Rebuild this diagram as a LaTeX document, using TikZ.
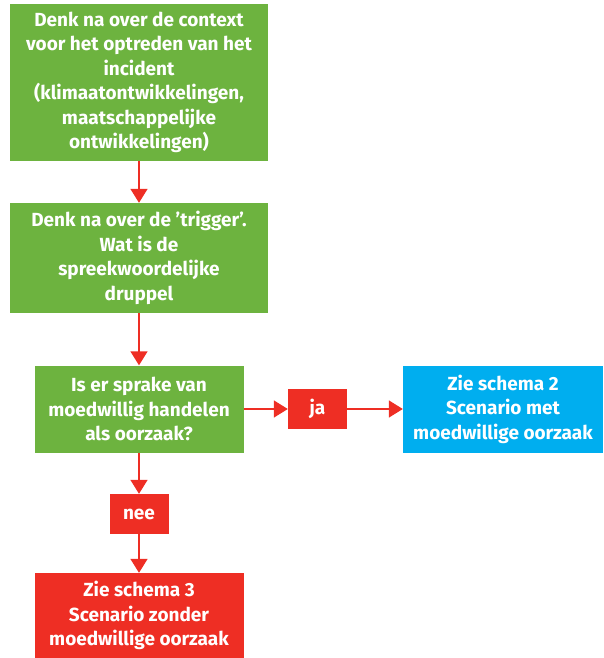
\documentclass[tikz,border=0pt]{standalone}
\usepackage{fontspec}
\setmainfont{Fira Sans}
\usetikzlibrary{arrows.meta}
\definecolor{boxgreen}{RGB}{109,179,63}
\definecolor{boxred}{RGB}{238,46,36}
\definecolor{boxblue}{RGB}{0,174,239}
\tikzset{
  box/.style={rectangle, inner sep=0pt, text=white, align=center,
    font=\fontsize{19}{24.5}\selectfont\bfseries},
  greenbox/.style={box, fill=boxgreen},
  redbox/.style={box, fill=boxred},
  bluebox/.style={box, fill=boxblue},
  link/.style={draw=boxred, line width=1.5pt, -{Triangle[width=17pt,length=14pt]}}
}
\begin{document}
\begin{tikzpicture}[x=1pt,y=-1pt]
\useasboundingbox (0,0) rectangle (603,658);
\node[greenbox, minimum width=258pt, minimum height=157pt] (b1) at (139,82.5)
  {Denk na over de context\\voor het optreden van het\\incident\\(klimaatontwikkelingen,\\maatschappelijke\\ontwikkelingen)};
\node[greenbox, minimum width=258pt, minimum height=110pt] (b2) at (139,258)
  {Denk na over de ’trigger’.\\Wat is de\\spreekwoordelijke\\druppel};
\node[greenbox, minimum width=209pt, minimum height=87pt] (b3) at (139,409)
  {Is er sprake van\\moedwillig handelen\\als oorzaak?};
\node[redbox, minimum width=59pt, minimum height=40pt] (ja) at (317.5,409) {ja};
\node[bluebox, minimum width=200pt, minimum height=87pt] (b4) at (503,409)
  {Zie schema 2\\Scenario met\\moedwillige oorzaak};
\node[redbox, minimum width=59pt, minimum height=40pt] (nee) at (139,514) {nee};
\node[redbox, minimum width=209pt, minimum height=85pt] (b5) at (139,615.5)
  {Zie schema 3\\Scenario zonder\\moedwillige oorzaak};
\draw[link] (b1) -- (b2);
\draw[link] (b2) -- (b3);
\draw[link] (b3) -- (ja);
\draw[link] (ja) -- (b4);
\draw[link] (b3) -- (nee);
\draw[link] (nee) -- (b5);
\end{tikzpicture}
\end{document}
